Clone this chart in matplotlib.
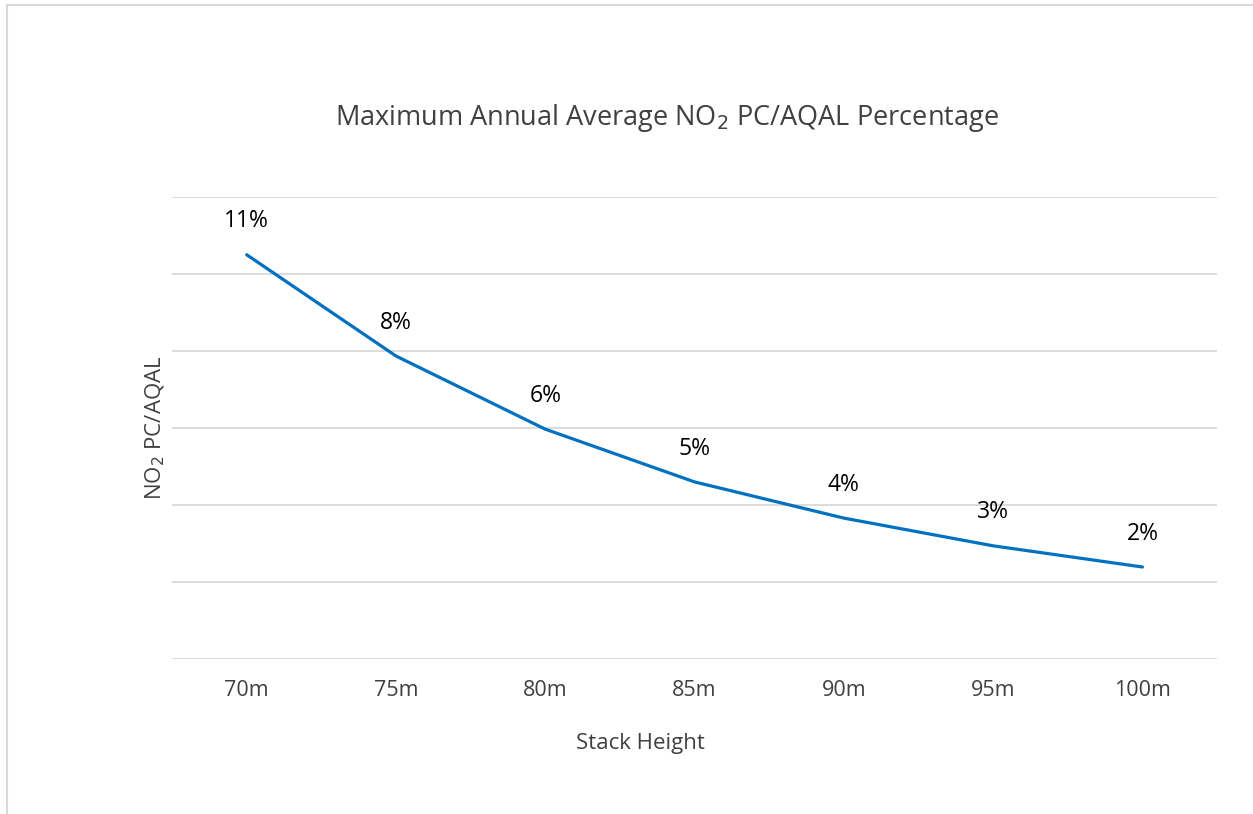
import matplotlib.pyplot as plt
from matplotlib.lines import Line2D

heights = ["70m", "75m", "80m", "85m", "90m", "95m", "100m"]
pc_aqal = [10.5, 7.87, 5.97, 4.6, 3.66, 2.94, 2.39]
labels = ["11%", "8%", "6%", "5%", "4%", "3%", "2%"]

plt.rcParams["font.family"] = ["Open Sans", "DejaVu Sans"]

fig = plt.figure(figsize=(12.53, 8.14), dpi=100)
ax = fig.add_axes([0.1373, 0.1904, 0.834, 0.5676])

x = list(range(len(heights)))
ax.plot(x, pc_aqal, color="#0070C0", linewidth=2.3, solid_capstyle="round")
for xi, yi, lab in zip(x, pc_aqal, labels):
    ax.annotate(lab, (xi, yi), xytext=(0, 24), textcoords="offset points",
                ha="center", va="center", fontsize=16.5, color="black")

ax.set_xlim(-0.5, len(heights) - 0.5)
ax.set_ylim(0, 12)
ax.set_yticks([0, 2, 4, 6, 8, 10, 12])
ax.set_yticklabels([])
ax.set_xticks(x)
ax.set_xticklabels(heights, fontsize=15.5, color="#404040")
ax.tick_params(length=0, pad=15)
ax.grid(True, axis="y", color="#D9D9D9", linewidth=1.3)
ax.set_axisbelow(True)
for s in ax.spines.values():
    s.set_visible(False)

ax.set_xlabel("Stack Height", fontsize=16, color="#404040")
ax.xaxis.set_label_coords(0.448, -0.161)
ax.set_ylabel("NO$_2$ PC/AQAL", fontsize=16, color="#404040")
ax.yaxis.set_label_coords(-0.0045, 0.5)
fig.text(0.532, 0.855, "Maximum Annual Average NO$_2$ PC/AQAL Percentage",
         ha="center", va="center", fontsize=19.5, color="#404040")

# frame around the chart area
fig.add_artist(Line2D([7 / 1253, 1], [1 - 5 / 814, 1 - 5 / 814], color="#D9D9D9", linewidth=1.5))
fig.add_artist(Line2D([7 / 1253, 7 / 1253], [0, 1 - 5 / 814], color="#D9D9D9", linewidth=1.5))

fig.savefig("out.png", dpi=100)
